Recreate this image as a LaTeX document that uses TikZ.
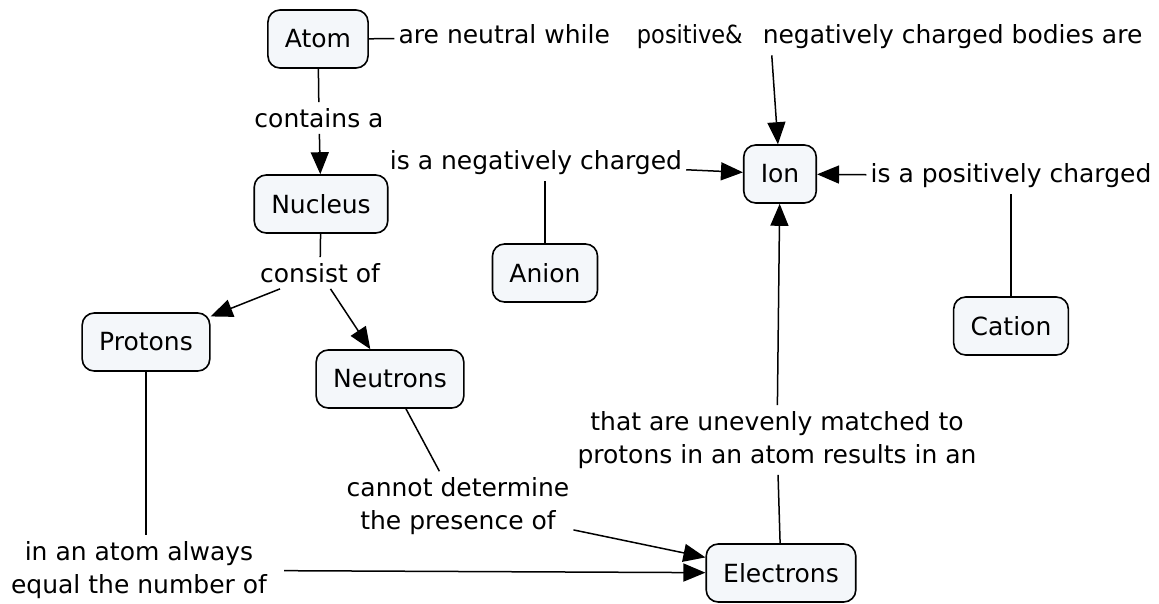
\documentclass[tikz,border=0pt]{standalone}
\usepackage{fontspec}
\setmainfont{DejaVu Sans}
\usepackage{xcolor}
\usetikzlibrary{arrows.meta}
\definecolor{boxfill}{RGB}{244,247,250}
\newcommand{\mapfont}{\fontsize{25}{33}\selectfont}

\begin{document}
\begin{tikzpicture}[x=1pt, y=-1pt,
          concept/.style={rectangle, rounded corners=12pt, draw=black, line width=1.6pt,
                          fill=boxfill, minimum height=58pt, inner xsep=17pt, font=\mapfont},
          phrase/.style={inner xsep=4pt, inner ysep=6pt, align=center, font=\mapfont},
          link/.style={line width=1.5pt, black},
          arr/.style={link, -{Triangle[length=22pt, width=18pt]}}]
          \useasboundingbox (0,0) rectangle (1159,603);
          % concepts
          \node[concept] (atom)      at (318,39)   {Atom};
          \node[concept] (nucleus)   at (321,204)  {Nucleus};
          \node[concept] (protons)   at (146,342)  {Protons};
          \node[concept] (neutrons)  at (390,379)  {Neutrons};
          \node[concept] (electrons) at (781,573)  {Electrons};
          \node[concept] (ion)       at (780,174)  {Ion};
          \node[concept] (anion)     at (545,273)  {Anion};
          \node[concept] (cation)    at (1011,326) {Cation};
          % linking phrases
          \node[phrase] (neutral) at (770.5,37)
            {are neutral while\hspace{27pt}\scalebox{0.9}[1]{positive\&}\hspace{20pt}negatively charged bodies are};
          \node[phrase] (contains) at (319,118) {contains a};
          \node[phrase] (consist)  at (320,273) {consist of};
          \node[phrase] (equal)    at (139,570) {in an atom always\\equal the number of};
          \node[phrase] (cannot)   at (458,506) {cannot determine\\the presence of};
          \node[phrase] (uneven)   at (777,440) {that are unevenly matched to\\protons in an atom results in an};
          \node[phrase] (neg)      at (536,163) {is a negatively charged};
          \node[phrase] (pos)      at (1011,176) {is a positively charged};
          % connectors
          \draw[link] (atom) -- (neutral);
          \draw[arr] (neutral) -- (ion);
          \draw[link] (atom) -- (contains);
          \draw[arr] (contains) -- (nucleus);
          \draw[link] (nucleus) -- (consist);
          \draw[arr] (consist) -- (protons);
          \draw[arr] (consist) -- (neutrons);
          \draw[link] (protons) -- (protons |- equal.north);
          \draw[arr, shorten <=13pt] (equal) -- (electrons);
          \draw[link] (neutrons) -- (cannot);
          \draw[arr] (cannot) -- (electrons);
          \draw[link] (electrons) -- (uneven);
          \draw[arr] (uneven) -- (ion);
          \draw[link] (anion) -- (anion |- neg.south);
          \draw[arr] (neg) -- (ion);
          \draw[link] (cation) -- (pos);
          \draw[arr] (pos) -- (ion);
        \end{tikzpicture}
\end{document}
